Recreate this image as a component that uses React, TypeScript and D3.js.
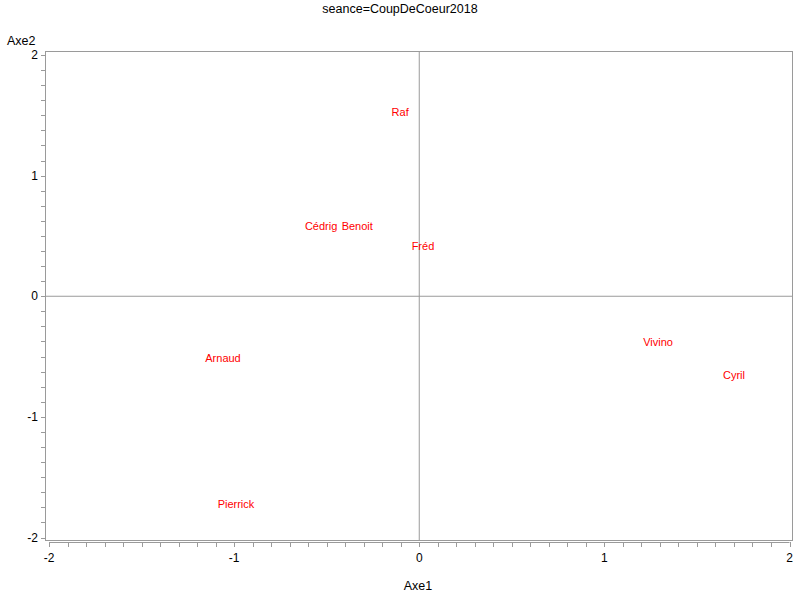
import React from "react";
import * as d3 from "d3";

const names = ["Raf", "Cédrig", "Benoit", "Fréd", "Arnaud", "Pierrick", "Vivino", "Cyril"];
const axe1 = [-0.103, -0.53, -0.335, 0.02, -1.06, -0.99, 1.29, 1.7];
const axe2 = [1.526, 0.58, 0.58, 0.415, -0.514, -1.725, -0.38, -0.655];
const majorTicks = [-2, -1, 0, 1, 2];
const title = "seance=CoupDeCoeur2018";

const W = 800;
const H = 600;
const font = "Arial, 'Liberation Sans', sans-serif";
const axisColor = "#9a9a9a";

export default function App() {
  const x = d3.scaleLinear().domain([-2, 2]).range([49, 789.5]);
  const y = d3.scaleLinear().domain([-2, 2]).range([537.5, 55]);
  const left = 45, right = 793, top = 51, bottom = 541;
  const xMinor = d3.range(-20, 21).map((i) => i / 10);
  const yMinor = d3.range(-16, 17).map((i) => i / 8);

  return (
    <svg width={W} height={H} style={{ position: "absolute", left: 0, top: 0, background: "#fff" }}>
      <rect x={0} y={0} width={W} height={H} fill="#fff" />
      <text x={400} y={13} textAnchor="middle" fontFamily={font} fontSize={12.5} fill="#000">{title}</text>
      {/* reference lines */}
      <line x1={x(0)} x2={x(0)} y1={top} y2={bottom} stroke={axisColor} strokeWidth={1} />
      <line x1={left} x2={right} y1={y(0)} y2={y(0)} stroke={axisColor} strokeWidth={1} />
      {/* frame */}
      <rect x={left + 0.5} y={top + 0.5} width={right - left - 1} height={bottom - top - 1} fill="none" stroke={axisColor} strokeWidth={1} />
      {/* y ticks */}
      {yMinor.map((v, i) => (
        <line key={"ym" + i} x1={left - 4} x2={left} y1={Math.round(y(v)) + 0.5} y2={Math.round(y(v)) + 0.5} stroke={axisColor} />
      ))}
      {majorTicks.map((v) => (
        <text key={"yl" + v} x={left - 7} y={y(v)} dy="0.35em" textAnchor="end" fontFamily={font} fontSize={12} fill="#000">{v}</text>
      ))}
      {/* x ticks */}
      <line x1={x(-2)} x2={x(2)} y1={542.5} y2={542.5} stroke={axisColor} />
      {xMinor.map((v, i) => (
        <line key={"xm" + i} x1={Math.round(x(v)) + 0.5} x2={Math.round(x(v)) + 0.5} y1={542} y2={547} stroke={axisColor} />
      ))}
      {majorTicks.map((v) => (
        <text key={"xl" + v} x={x(v)} y={562} textAnchor="middle" fontFamily={font} fontSize={12} fill="#000">{v}</text>
      ))}
      <text x={418} y={590} textAnchor="middle" fontFamily={font} fontSize={12.5} fill="#000">Axe1</text>
      <text x={7} y={45} textAnchor="start" fontFamily={font} fontSize={12.5} fill="#000">Axe2</text>
      {/* labels */}
      {names.map((n, i) => (
        <text key={n} x={x(axe1[i])} y={y(axe2[i])} dy="0.35em" textAnchor="middle" fontFamily={font} fontSize={11} fill="#ff0000">{n}</text>
      ))}
    </svg>
  );
}
